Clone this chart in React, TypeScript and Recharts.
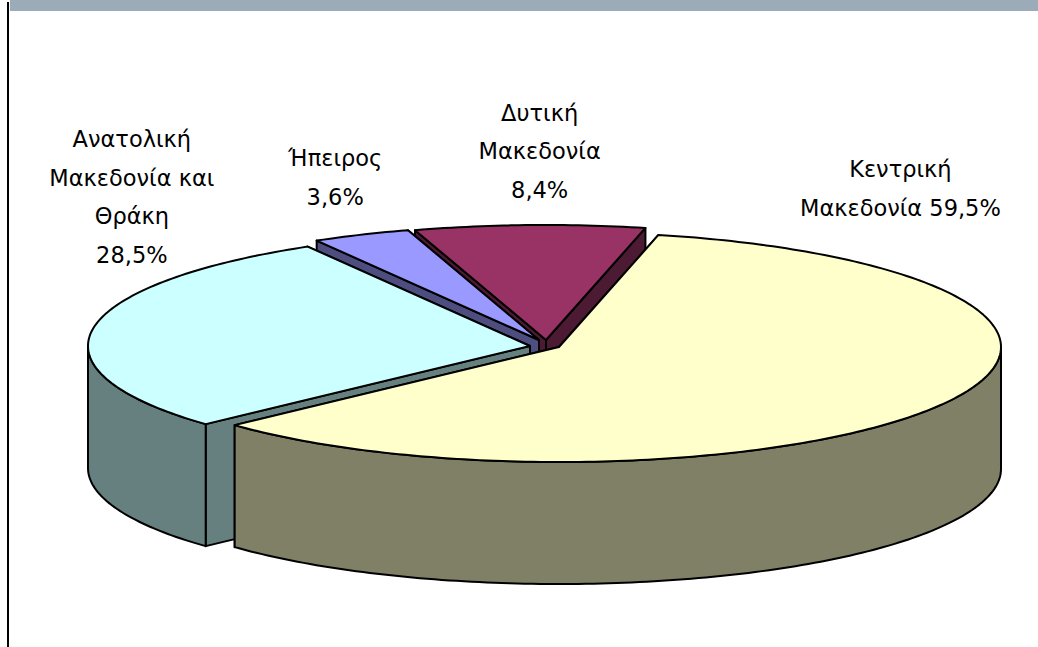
import React from "react";
import { PieChart, Pie } from "recharts";

const regions = ["Δυτική Μακεδονία", "Ήπειρος", "Ανατολική Μακεδονία και Θράκη", "Κεντρική Μακεδονία"];
const shares = [8.4, 3.6, 28.5, 59.5];
const labelLines = [
  ["Δυτική", "Μακεδονία", "8,4%"],
  ["Ήπειρος", "3,6%"],
  ["Ανατολική", "Μακεδονία και", "Θράκη", "28,5%"],
  ["Κεντρική", "Μακεδονία 59,5%"],
];
const topColors = ["#993366", "#9999FF", "#CCFFFF", "#FFFFCC"];
const wallColors = ["#4D1A33", "#4D4D80", "#668080", "#808066"];

const rows = regions.map((name, i) => ({ name, value: shares[i] }));

const WIDTH = 1038;
const HEIGHT = 647;
const CX = 540;
const CY = 344;
const RX = 442;
const SQUASH = 115 / 442;
const DEPTH = 122;
const explode = [
  { x: 6, y: -4 },
  { x: -1, y: -4 },
  { x: -10, y: 2 },
  { x: 19, y: 3 },
];
const labelNudge = [
  { x: 10, y: -74 },
  { x: -26, y: -57 },
  { x: 39, y: -132 },
  { x: -41, y: -216 },
];
const LINE_HEIGHT = 38.5;

const RAD = Math.PI / 180;

function SliceShape(props: any) {
  const i = regions.indexOf(props.payload?.name ?? props.name);
  const e = explode[i];
  const cx = props.cx + e.x;
  const cy = props.cy + e.y;
  const rx = props.outerRadius;
  const ry = rx * SQUASH;
  const pt = (deg: number, dy = 0) => [cx + rx * Math.cos(deg * RAD), cy - ry * Math.sin(deg * RAD) + dy];
  const s = props.startAngle;
  const t = props.endAngle;
  const str = (p: number[]) => `${p[0].toFixed(2)} ${p[1].toFixed(2)}`;

  const cutWall = (deg: number) =>
    `M${cx} ${cy}L${str(pt(deg))}L${str(pt(deg, DEPTH))}L${cx} ${cy + DEPTH}Z`;

  const arcPts = (a: number, b: number, dy = 0) => {
    const n = Math.max(2, Math.ceil(Math.abs(b - a)));
    const out: number[][] = [];
    for (let k = 0; k <= n; k++) out.push(pt(a + ((b - a) * k) / n, dy));
    return out;
  };

  const from = Math.max(s, 180);
  const to = Math.min(t, 360);
  let outer = "";
  if (to > from) {
    const up = arcPts(from, to);
    const down = arcPts(to, from, DEPTH);
    outer = "M" + up.concat(down).map(str).join("L") + "Z";
  }
  const top = `M${cx} ${cy}L` + arcPts(s, t).map(str).join("L") + "Z";

  const common = { stroke: "#000", strokeWidth: 2, strokeLinejoin: "round" as const };
  return (
    <g>
      <path d={cutWall(s)} fill={wallColors[i]} {...common} />
      <path d={cutWall(t)} fill={wallColors[i]} {...common} />
      {outer && <path d={outer} fill={wallColors[i]} {...common} />}
      <path d={top} fill={topColors[i]} {...common} />
    </g>
  );
}

function SliceLabel(props: any) {
  const i = regions.indexOf(props.payload?.name ?? props.name);
  const e = explode[i];
  const n = labelNudge[i];
  const rx = props.outerRadius;
  const x = props.cx + e.x + rx * Math.cos(props.midAngle * RAD) + n.x;
  const y = props.cy + e.y - rx * SQUASH * Math.sin(props.midAngle * RAD) + n.y;
  const lines = labelLines[i];
  const y0 = y - ((lines.length - 1) * LINE_HEIGHT) / 2;
  return (
    <text
      x={x}
      y={y0}
      textAnchor="middle"
      dominantBaseline="central"
      fontFamily="'DejaVu Sans', sans-serif"
      fontSize={22.5}
      fill="#000"
    >
      {lines.map((line, k) => (
        <tspan key={k} x={x} y={y0 + k * LINE_HEIGHT}>
          {line}
        </tspan>
      ))}
    </text>
  );
}

export default function App() {
  return (
    <div style={{ position: "fixed", left: 0, top: 0, width: WIDTH, height: HEIGHT, background: "#fff", overflow: "hidden" }}>
      <div style={{ position: "absolute", left: 10, top: 0, width: WIDTH - 10, height: 11, background: "#9CABB8" }} />
      <div style={{ position: "absolute", left: 7, top: 2, width: 2, height: HEIGHT - 2, background: "#000" }} />
      <PieChart width={WIDTH} height={HEIGHT} margin={{ top: 0, right: 0, bottom: 0, left: 0 }}>
        <Pie
          data={rows}
          dataKey="value"
          nameKey="name"
          cx={CX}
          cy={CY}
          innerRadius={0}
          outerRadius={RX}
          startAngle={77}
          endAngle={437}
          paddingAngle={0}
          isAnimationActive={false}
          shape={SliceShape}
          label={SliceLabel}
          labelLine={false}
        />
      </PieChart>
    </div>
  );
}
